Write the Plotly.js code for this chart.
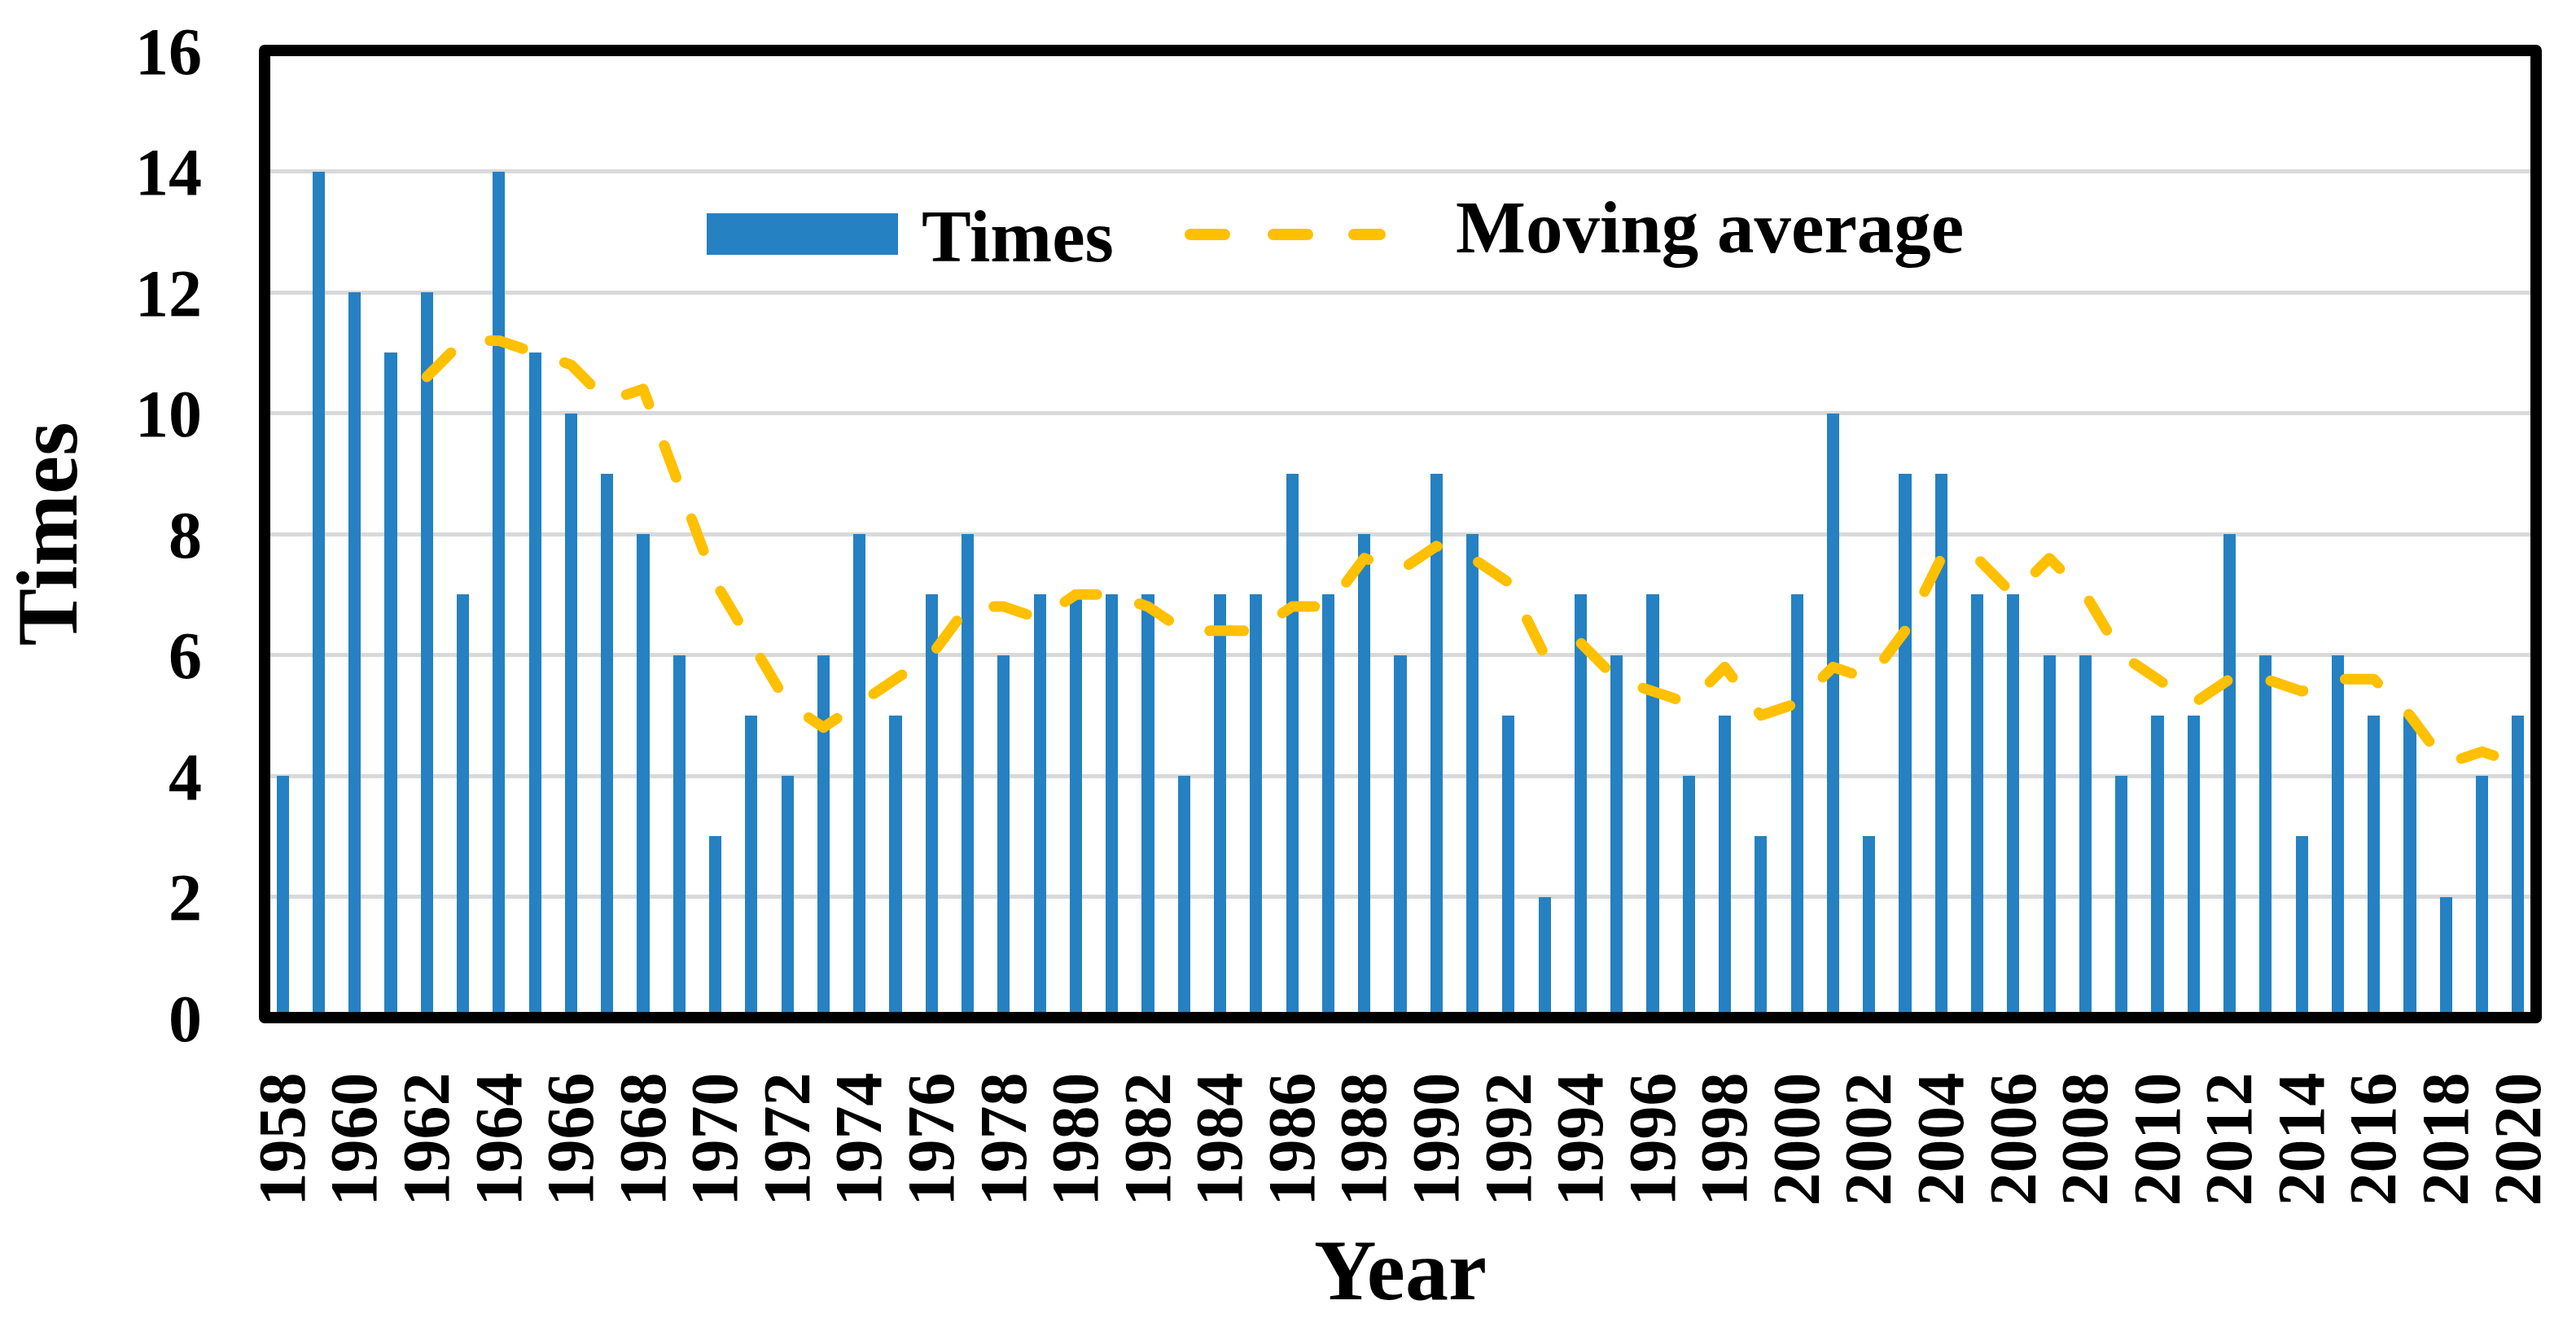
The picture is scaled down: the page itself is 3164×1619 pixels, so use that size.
<!DOCTYPE html>
<html>
<head>
<meta charset="utf-8">
<script src="https://cdn.plot.ly/plotly-3.0.1.min.js"></script>
<style>
html,body{margin:0;padding:0;background:#ffffff;}
#chart{width:3164px;height:1619px;}
.shapelayer path{stroke-linecap:round;stroke-linejoin:round;}
.scatterlayer .js-line{stroke-linecap:round;stroke-linejoin:round;}
</style>
</head>
<body>
<div id="chart"></div>
<script>
// ---- data ----
const years = [1958,1959,1960,1961,1962,1963,1964,1965,1966,1967,1968,1969,1970,1971,1972,1973,1974,1975,1976,1977,1978,1979,1980,1981,1982,1983,1984,1985,1986,1987,1988,1989,1990,1991,1992,1993,1994,1995,1996,1997,1998,1999,2000,2001,2002,2003,2004,2005,2006,2007,2008,2009,2010,2011,2012,2013,2014,2015,2016,2017,2018,2019,2020];
const times = [4,14,12,11,12,7,14,11,10,9,8,6,3,5,4,6,8,5,7,8,6,7,7,7,7,4,7,7,9,7,8,6,9,8,5,2,7,6,7,4,5,3,7,10,3,9,9,7,7,6,6,4,5,5,8,6,3,6,5,5,2,4,5];
const movingAverage = [null,null,null,null,10.6,11.2,11.2,11.0,10.8,10.2,10.4,8.8,7.2,6.2,5.2,4.8,5.2,5.6,6.0,6.8,6.8,6.6,7.0,7.0,6.8,6.4,6.4,6.4,6.8,6.8,7.6,7.4,7.8,7.6,7.2,6.0,6.2,5.6,5.4,5.2,5.8,5.0,5.2,5.8,5.6,6.4,7.6,7.6,7.0,7.6,7.0,6.0,5.6,5.2,5.6,5.6,5.4,5.6,5.6,5.0,4.2,4.4,4.2];
const tickYears = [1958,1960,1962,1964,1966,1968,1970,1972,1974,1976,1978,1980,1982,1984,1986,1988,1990,1992,1994,1996,1998,2000,2002,2004,2006,2008,2010,2012,2014,2016,2018,2020];
const tickLabels = ["1958","1960","1962","1964","1966","1968","1970","1972","1974","1976","1978","1980","1982","1984","1986","1988","1990","1992","1994","1996","1998","2000","2002","2004","2006","2008","2010","2012","2014","2016","2018","2020"];
const yTickVals = [0,2,4,6,8,10,12,14,16];
const seriesNames = ["Times","Moving average"];
const axisTitles = {x:"Year", y:"Times"};

// ---- style ----
const FONT = "Liberation Serif, 'Times New Roman', serif";
const BAR_COLOR = "#2581c2";
const LINE_COLOR = "#ffc000";
const W = 3164, H = 1619;
const M = {l:325, r:49, t:62, b:369};
const PW = W - M.l - M.r, PH = H - M.t - M.b;
const px = v => (v - M.l) / PW;          // pixel x -> paper x
const py = v => (H - M.b - v) / PH;      // pixel y -> paper y

const traces = [
  {
    type: "bar", name: seriesNames[0], x: years, y: times,
    width: 0.34, marker: {color: BAR_COLOR, line: {width: 0}},
    showlegend: false, hoverinfo: "x+y"
  },
  {
    type: "scatter", mode: "lines", name: seriesNames[1], x: years, y: movingAverage,
    line: {color: LINE_COLOR, width: 13, dash: "42px,54px", shape: "linear"},
    connectgaps: false, showlegend: false
  }
];

const shapes = [
  // plot frame
  {type:"rect", xref:"paper", yref:"paper", x0:0, x1:1, y0:0, y1:1,
   line:{color:"#000000", width:14}, fillcolor:"rgba(0,0,0,0)", layer:"above"},
  // legend: bar swatch
  {type:"rect", xref:"paper", yref:"paper", x0:px(868), x1:px(1103), y0:py(313), y1:py(262),
   line:{width:0}, fillcolor:BAR_COLOR, layer:"above"},
  // legend: dashed line swatch (three dashes)
  {type:"line", xref:"paper", yref:"paper", x0:px(1462), x1:px(1504), y0:py(288), y1:py(288),
   line:{color:LINE_COLOR, width:14}, layer:"above"},
  {type:"line", xref:"paper", yref:"paper", x0:px(1564), x1:px(1606), y0:py(288), y1:py(288),
   line:{color:LINE_COLOR, width:14}, layer:"above"},
  {type:"line", xref:"paper", yref:"paper", x0:px(1663), x1:px(1695), y0:py(288), y1:py(288),
   line:{color:LINE_COLOR, width:14}, layer:"above"}
];

const annotations = [
  {xref:"paper", yref:"paper", x:px(1130), y:py(290), xanchor:"left", yanchor:"middle",
   text:seriesNames[0], showarrow:false, font:{family:FONT, size:91, color:"#000", weight:"bold"}},
  {xref:"paper", yref:"paper", x:px(1786), y:py(279), xanchor:"left", yanchor:"middle",
   text:seriesNames[1], showarrow:false, font:{family:FONT, size:91, color:"#000", weight:"bold"}}
];

const layout = {
  width: W, height: H,
  margin: M,
  paper_bgcolor: "#ffffff", plot_bgcolor: "#ffffff",
  font: {family: FONT, color: "#000000", weight: "bold"},
  showlegend: false,
  bargap: 0,
  xaxis: {
    type: "linear", range: [1957.5, 2020.5], fixedrange: true,
    tickmode: "array", tickvals: tickYears, ticktext: tickLabels,
    tickangle: -90, tickfont: {family: FONT, size: 82, weight: "bold", color: "#000"},
    ticks: "", ticklabelstandoff: 50,
    showgrid: false, zeroline: false, showline: false, automargin: false,
    title: {text: axisTitles.x, font: {family: FONT, size: 106, weight: "bold", color: "#000"}, standoff: 60}
  },
  yaxis: {
    range: [0, 16], fixedrange: true,
    tickmode: "array", tickvals: yTickVals,
    tickfont: {family: FONT, size: 82, weight: "bold", color: "#000"},
    ticks: "", ticklabelstandoff: 76,
    showgrid: true, gridcolor: "#d9d9d9", gridwidth: 5,
    zeroline: false, showline: false, automargin: false,
    title: {text: axisTitles.y, font: {family: FONT, size: 106, weight: "bold", color: "#000"}, standoff: 55}
  },
  shapes: shapes,
  annotations: annotations
};

Plotly.newPlot("chart", traces, layout, {staticPlot: true, displayModeBar: false});
</script>
</body>
</html>
